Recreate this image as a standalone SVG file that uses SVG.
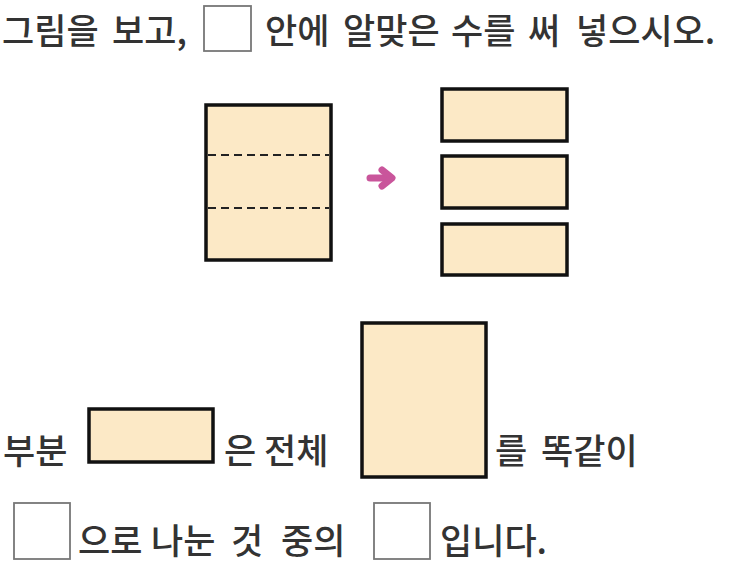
<svg xmlns="http://www.w3.org/2000/svg" width="730" height="567" viewBox="0 0 730 567">
<style>
text{font-family:"Noto Sans CJK KR","Noto Sans",sans-serif;font-size:35px;font-weight:500;fill:#333}
.paper{fill:#FCE9C6;stroke:#111;stroke-width:3.5}
.blank{fill:#fff;stroke:#777;stroke-width:1.8}
.dash{stroke:#222;stroke-width:2.2;stroke-dasharray:8 5}
</style>
<rect width="730" height="567" fill="#fff"/>
<g id="title">
<text x="2" y="44">그림을</text>
<text x="112" y="44">보고,</text>
<rect class="blank" x="204" y="6" width="47" height="45"/>
<text x="265" y="44">안에</text>
<text x="343" y="44">알맞은</text>
<text x="451" y="44">수를</text>
<text x="528" y="44">써</text>
<text x="576" y="44">넣으시오.</text>
</g>
<g id="whole">
<rect class="paper" x="206" y="105" width="125" height="155"/>
<line class="dash" x1="208" y1="155" x2="329" y2="155"/>
<line class="dash" x1="208" y1="208" x2="329" y2="208"/>
</g>
<g id="arrow">
<path d="M370 178 H386" stroke="#C9559B" stroke-width="7" stroke-linecap="round" fill="none"/>
<path d="M382 170 L392 178 L382 186" stroke="#C9559B" stroke-width="7" stroke-linecap="round" stroke-linejoin="round" fill="none"/>
</g>
<g id="pieces">
<rect class="paper" x="442" y="89" width="125" height="52"/>
<rect class="paper" x="442" y="156" width="125" height="52"/>
<rect class="paper" x="442" y="224" width="125" height="51"/>
</g>
<g id="sentence1">
<text x="3" y="464">부분</text>
<rect class="paper" x="89" y="409" width="124" height="53"/>
<text x="224" y="464">은</text>
<text x="264" y="464">전체</text>
<rect class="paper" x="362" y="323" width="124" height="154"/>
<text x="495" y="464">를</text>
<text x="541" y="464">똑같이</text>
</g>
<g id="sentence2">
<rect class="blank" x="14" y="503" width="56" height="56"/>
<text x="78" y="554">으로</text>
<text x="151" y="554">나눈</text>
<text x="231" y="554">것</text>
<text x="281" y="554">중의</text>
<rect class="blank" x="374" y="503" width="56" height="56"/>
<text x="440" y="554">입니다.</text>
</g>
</svg>
